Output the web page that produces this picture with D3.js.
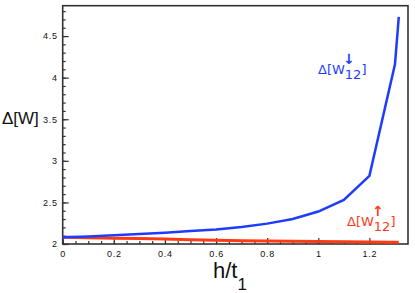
<!DOCTYPE html>
<html>
<head>
<meta charset="utf-8">
<script src="https://cdn.jsdelivr.net/npm/d3@7"></script>
<style>
  html, body { margin: 0; padding: 0; background: #fff; }
  svg { display: block; }
</style>
</head>
<body>
<div id="chart"></div>
<script>
// data
const hValues = [0, 0.1, 0.2, 0.3, 0.4, 0.5, 0.6, 0.7, 0.8, 0.9, 1.0, 1.1, 1.2, 1.3, 1.315];
const wDown = [2.08, 2.09, 2.105, 2.12, 2.135, 2.155, 2.175, 2.205, 2.245, 2.30, 2.39, 2.53, 2.82, 4.16, 4.73];
const wUp = [2.08, 2.075, 2.07, 2.065, 2.06, 2.052, 2.045, 2.04, 2.036, 2.032, 2.029, 2.026, 2.024, 2.022, 2.021];
const xTicks = [0, 0.2, 0.4, 0.6, 0.8, 1, 1.2];
const yTicks = [2, 2.5, 3, 3.5, 4, 4.5];
const xMinor = d3.range(0, 1.35, 0.05);
const yMinor = d3.range(2, 4.86, 0.1);

const width = 415, height = 293;
const margin = { top: 5.7, right: 7, bottom: 49, left: 62.7 };
const innerW = width - margin.left - margin.right;
const innerH = height - margin.top - margin.bottom;

const svg = d3.select('#chart').append('svg')
	.attr('width', width)
	.attr('height', height);

const g = svg.append('g')
	.attr('transform', `translate(${margin.left},${margin.top})`);

const x = d3.scaleLinear().domain([0, 1.351]).range([0, innerW]);
const y = d3.scaleLinear().domain([2, 4.865]).range([innerH, 0]);

const tickFont = '9px "Liberation Sans", Arial, sans-serif';

// minor ticks
g.append('g')
	.attr('transform', `translate(0,${innerH})`)
	.call(d3.axisBottom(x).tickValues(xMinor).tickSize(-3).tickFormat(''))
	.call(a => a.select('.domain').remove());
g.append('g')
	.call(d3.axisLeft(y).tickValues(yMinor).tickSize(-3).tickFormat(''))
	.call(a => a.select('.domain').remove());

// major ticks
g.append('g')
	.attr('transform', `translate(0,${innerH})`)
	.call(d3.axisBottom(x).tickValues(xTicks).tickSize(-6).tickPadding(7).tickFormat(d3.format('')))
	.call(a => a.select('.domain').remove())
	.call(a => a.selectAll('text').style('font', tickFont).style('letter-spacing', '0.7px').attr('fill', '#111'));
g.append('g')
	.call(d3.axisLeft(y).tickValues(yTicks).tickSize(-6).tickPadding(5).tickFormat(d3.format('')))
	.call(a => a.select('.domain').remove())
	.call(a => a.selectAll('text').style('font', tickFont).style('letter-spacing', '0.7px').attr('fill', '#111'));

g.selectAll('.tick line').attr('stroke', '#333').attr('stroke-width', 1.2);

// frame
g.append('rect')
	.attr('width', innerW)
	.attr('height', innerH)
	.attr('fill', 'none')
	.attr('stroke', '#333')
	.attr('stroke-width', 1.6);

const line = d3.line()
	.x((d, i) => x(hValues[i]))
	.y(d => y(d));

g.append('path')
	.datum(wUp)
	.attr('d', line)
	.attr('fill', 'none')
	.attr('stroke', '#ff3a14')
	.attr('stroke-width', 3);

g.append('path')
	.datum(wDown)
	.attr('d', line)
	.attr('fill', 'none')
	.attr('stroke', '#1e3cff')
	.attr('stroke-width', 2.5);

// series labels
function seriesLabel(px, py, color, arrow) {
	const t = svg.append('text')
		.attr('x', px)
		.attr('y', py)
		.attr('fill', color)
		.style('font', '13px "DejaVu Sans", sans-serif');
	const head = t.append('tspan').text('Δ[W');
	t.append('tspan').attr('dy', 5).text('12');
	t.append('tspan').attr('dy', -5).text(']');
	const w = head.node().getComputedTextLength();
	svg.append('text')
		.attr('x', px + w + 4)
		.attr('y', py - 10)
		.attr('text-anchor', 'middle')
		.attr('fill', color)
		.style('font', 'bold 14px "DejaVu Sans", sans-serif')
		.text(arrow);
}
seriesLabel(318, 74, '#1e3cff', '↓');
seriesLabel(347, 226, '#ff3a14', '↑');

// axis titles
svg.append('text')
	.attr('x', 2)
	.attr('y', 124)
	.attr('fill', '#111')
	.style('font', '17px "Liberation Sans", Arial, sans-serif')
	.text('Δ[W]');

const xTitle = svg.append('text')
	.attr('x', 213)
	.attr('y', 278)
	.attr('fill', '#111')
	.style('font', '22px "Liberation Sans", Arial, sans-serif');
xTitle.append('tspan').text('h/t');
xTitle.append('tspan').attr('dy', 12).style('font-size', '17px').text('1');
</script>
</body>
</html>
